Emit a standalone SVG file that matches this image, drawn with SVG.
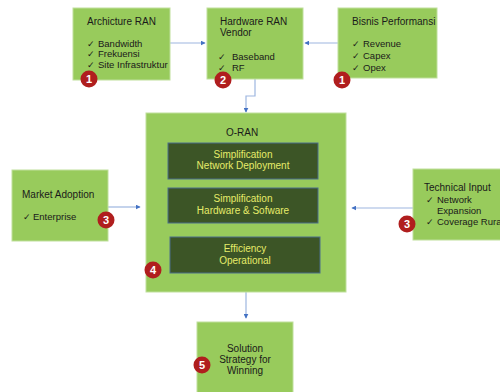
<svg xmlns="http://www.w3.org/2000/svg" width="500" height="392" viewBox="0 0 500 392">
<defs>
<marker id="ah" viewBox="0 0 8 8" refX="7" refY="4" markerWidth="5" markerHeight="5" orient="auto" markerUnits="userSpaceOnUse">
<path d="M0,0 L8,4 L0,8 Z" fill="#4472C4"/>
</marker>
<style>
.box{fill:#98CB5C;stroke:#BFDF9C;stroke-width:1}
.inner{fill:#3C5526;stroke:#4A6E8A;stroke-width:1}
.t{font-family:"Liberation Sans",Arial,sans-serif;font-size:10px;fill:#1a1a1a}
.i{font-family:"Liberation Sans",Arial,sans-serif;font-size:9.5px;fill:#1a1a1a}
.ck{font-family:"DejaVu Sans",sans-serif;font-size:9px;fill:#1a1a1a}
.y{font-family:"Liberation Sans",Arial,sans-serif;font-size:10px;fill:#E6EC6A;text-anchor:middle}
.c{text-anchor:middle}
.b{fill:#B01E1E}
.bn{font-family:"Liberation Sans",Arial,sans-serif;font-size:11px;font-weight:bold;fill:#fff;text-anchor:middle}
.ln{fill:none;stroke:#9DB6E0;stroke-width:1.2}
</style>
</defs>
<rect width="500" height="392" fill="#fff"/>

<g id="connectors">
<line class="ln" x1="170" y1="43" x2="205" y2="43" marker-end="url(#ah)"/>
<line class="ln" x1="338" y1="43" x2="305" y2="43" marker-end="url(#ah)"/>
<polyline class="ln" points="255,79 255,96 246,96 246,112" marker-end="url(#ah)"/>
<line class="ln" x1="108" y1="207" x2="140" y2="207" marker-end="url(#ah)"/>
<line class="ln" x1="413" y1="208" x2="352" y2="208" marker-end="url(#ah)"/>
<line class="ln" x1="246" y1="292" x2="246" y2="318" marker-end="url(#ah)"/>
</g>

<g id="archicture-ran">
<rect class="box" x="73" y="8" width="97" height="72"/>
<text class="t" x="87" y="25">Archicture RAN</text>
<text class="ck" x="87" y="47">✓</text><text class="i" x="98" y="47">Bandwidth</text>
<text class="ck" x="87" y="57">✓</text><text class="i" x="98" y="57">Frekuensi</text>
<text class="ck" x="87" y="68">✓</text><text class="i" x="98" y="68">Site Infrastruktur</text>
<circle class="b" cx="89" cy="79" r="8.5"/><text class="bn" x="89" y="83">1</text>
</g>

<g id="hardware-ran-vendor">
<rect class="box" x="207" y="8" width="96" height="71"/>
<text class="t" x="220" y="25">Hardware RAN</text>
<text class="t" x="220" y="36">Vendor</text>
<text class="ck" x="218" y="60">✓</text><text class="i" x="232" y="60">Baseband</text>
<text class="ck" x="218" y="71">✓</text><text class="i" x="232" y="71">RF</text>
<circle class="b" cx="223" cy="80" r="8.5"/><text class="bn" x="223" y="84">2</text>
</g>

<g id="bisnis-performansi">
<rect class="box" x="338" y="8" width="99" height="70"/>
<text class="t" x="352" y="25">Bisnis Performansi</text>
<text class="ck" x="352" y="47">✓</text><text class="i" x="363" y="47">Revenue</text>
<text class="ck" x="352" y="59">✓</text><text class="i" x="363" y="59">Capex</text>
<text class="ck" x="352" y="71">✓</text><text class="i" x="363" y="71">Opex</text>
<circle class="b" cx="342" cy="80" r="8.5"/><text class="bn" x="342" y="84">1</text>
</g>

<g id="o-ran">
<rect class="box" x="146" y="113" width="200" height="179"/>
<text class="t c" x="242" y="136">O-RAN</text>
<rect class="inner" x="168" y="143" width="150" height="36"/>
<text class="y" x="243" y="158">Simplification</text>
<text class="y" x="243" y="169">Network Deployment</text>
<rect class="inner" x="168" y="188" width="150" height="35"/>
<text class="y" x="243" y="202">Simplification</text>
<text class="y" x="243" y="214">Hardware &amp; Sofware</text>
<rect class="inner" x="170" y="237" width="150" height="36"/>
<text class="y" x="245" y="252">Efficiency</text>
<text class="y" x="245" y="264">Operational</text>
<circle class="b" cx="153" cy="270" r="8.5"/><text class="bn" x="153" y="274">4</text>
</g>

<g id="market-adoption">
<rect class="box" x="12" y="170" width="96" height="71"/>
<text class="t" x="22" y="198">Market Adoption</text>
<text class="ck" x="23" y="220">✓</text><text class="i" x="33" y="220">Enterprise</text>
<circle class="b" cx="106" cy="220" r="8.5"/><text class="bn" x="106" y="224">3</text>
</g>

<g id="technical-input">
<rect class="box" x="413" y="169" width="95" height="71"/>
<text class="t" x="424" y="191">Technical Input</text>
<text class="ck" x="426" y="203">✓</text><text class="i" x="437" y="203">Network</text>
<text class="i" x="437" y="214">Expansion</text>
<text class="ck" x="426" y="225">✓</text><text class="i" x="437" y="225">Coverage Rural</text>
<circle class="b" cx="407" cy="224" r="8.5"/><text class="bn" x="407" y="228">3</text>
</g>

<g id="solution-strategy">
<rect class="box" x="197" y="322" width="96" height="75"/>
<text class="t c" x="245" y="352">Solution</text>
<text class="t c" x="245" y="363">Strategy for</text>
<text class="t c" x="245" y="374">Winning</text>
<circle class="b" cx="202" cy="365" r="8.5"/><text class="bn" x="202" y="369">5</text>
</g>
</svg>
